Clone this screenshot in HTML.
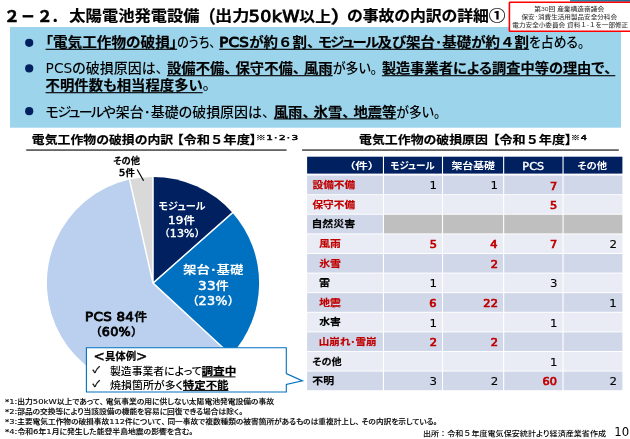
<!DOCTYPE html>
<html lang="ja">
<head>
<meta charset="utf-8">
<title>太陽電池発電設備（出力50kW以上）の事故の内訳の詳細①</title>
<style>
*{margin:0;padding:0;box-sizing:border-box}
html,body{width:630px;height:439px;overflow:hidden;background:#fff}
body{position:relative;font-family:"Liberation Sans","Noto Sans CJK JP",sans-serif;font-feature-settings:"palt"}
.g{display:block;position:static}
.l{font-family:"DejaVu Sans Condensed","DejaVu Sans","Liberation Sans","Noto Sans CJK JP",sans-serif;font-feature-settings:normal;font-size:1.1em;font-weight:normal}
span.f{font-feature-settings:normal}
.l.w{font-family:"DejaVu Sans","Liberation Sans","Noto Sans CJK JP",sans-serif;-webkit-text-stroke:0.12px currentColor;font-size:1.08em}
span.ab{font-family:"DejaVu Sans","Liberation Sans",sans-serif;font-weight:normal;-webkit-text-stroke:0.03em currentColor;font-size:1.3em;line-height:0;position:relative;top:0.06em}
span.po{margin-right:0.02em}
span.pc{margin-left:0.02em}
span.k{letter-spacing:-0.11em}
span.p{font-feature-settings:normal;letter-spacing:-0.22em}
.b{-webkit-text-stroke:0.18px currentColor}
.b .l{font-family:"DejaVu Sans","Liberation Sans","Noto Sans CJK JP",sans-serif;font-weight:normal;-webkit-text-stroke:0.068em currentColor;font-size:1.04em;letter-spacing:0.02em}
.wt{-webkit-text-stroke:0}
.wt .l{-webkit-text-stroke:0.04em currentColor}
.t{position:absolute;white-space:nowrap;line-height:1;font-weight:500;transform-origin:0 0;left:0;top:0}
.b{font-weight:bold}
.s{position:absolute}
</style>
</head>
<body>
<svg class="s" style="left:0;top:0" width="630" height="439" viewBox="0 0 630 439">
<defs><linearGradient id="bar" x1="0" x2="1" y1="0" y2="0"><stop offset="0" stop-color="#2a8ab3"/><stop offset="1" stop-color="#186a96"/></linearGradient></defs>
<rect x="10" y="27" width="611" height="100.7" fill="#9cd5eb"/>
<rect x="570" y="0" width="60" height="1.7" fill="url(#bar)"/>
<rect x="509.4" y="2.3" width="130" height="29" rx="0.6" fill="#fff" stroke="#f00" stroke-width="1.6"/>
<circle cx="29.2" cy="42.8" r="4.1" fill="#002060"/>
<circle cx="29.2" cy="68.4" r="4.1" fill="#002060"/>
<circle cx="29.2" cy="111.2" r="4.1" fill="#002060"/>
<rect x="45.6" y="48.75" width="131.5" height="1.1" fill="#000"/>
<rect x="219.2" y="48.75" width="309.7" height="1.1" fill="#000"/>
<rect x="167" y="75.15" width="165.7" height="1.1" fill="#000"/>
<rect x="381.9" y="75.15" width="233.4" height="1.1" fill="#000"/>
<rect x="45.6" y="92.15" width="157.1" height="1.1" fill="#000"/>
<rect x="273.8" y="118.35" width="122.6" height="1.1" fill="#000"/>
<rect x="26.2" y="149.5" width="260.4" height="1.1" fill="#000"/>
<rect x="302.1" y="149.5" width="316.7" height="1.1" fill="#000"/>
<path d="M153 283.1L153 177A106.1 106.1 0 0 1 232.48 212.81Z" fill="#002060"/><path d="M153 283.1L232.48 212.81A106.1 106.1 0 0 1 230.89 355.14Z" fill="#0070c0"/><path d="M153 283.1L230.89 355.14A106.1 106.1 0 1 1 129.56 179.62Z" fill="#bad0ee"/><path d="M153 283.1L129.56 179.62A106.1 106.1 0 0 1 153 177Z" fill="#d9d9d9"/><path d="M153 283.1L153 176M153 283.1L233.23 212.15M153 283.1L231.63 355.82M153 283.1L129.33 178.65" stroke="#fff" stroke-width="1.5" fill="none" stroke-linecap="round"/><path d="M137.2 169.5L143.6 180.8" stroke="#000" stroke-width="1.2" fill="none"/>
<rect x="307.1" y="156.7" width="75.8" height="16.9" fill="#002060"/>
<rect x="384" y="156.7" width="57.95" height="16.9" fill="#002060"/>
<rect x="443.05" y="156.7" width="60.05" height="16.9" fill="#002060"/>
<rect x="504.2" y="156.7" width="58.3" height="16.9" fill="#002060"/>
<rect x="563.6" y="156.7" width="58.8" height="16.9" fill="#002060"/>
<rect x="307.1" y="175.55" width="75.8" height="18.65" fill="#d0d7e9"/>
<rect x="384" y="175.55" width="57.95" height="18.65" fill="#d0d7e9"/>
<rect x="443.05" y="175.55" width="60.05" height="18.65" fill="#d0d7e9"/>
<rect x="504.2" y="175.55" width="58.3" height="18.65" fill="#d0d7e9"/>
<rect x="563.6" y="175.55" width="58.8" height="18.65" fill="#d0d7e9"/>
<rect x="307.1" y="195.15" width="75.8" height="18.65" fill="#e9ecf4"/>
<rect x="384" y="195.15" width="57.95" height="18.65" fill="#e9ecf4"/>
<rect x="443.05" y="195.15" width="60.05" height="18.65" fill="#e9ecf4"/>
<rect x="504.2" y="195.15" width="58.3" height="18.65" fill="#e9ecf4"/>
<rect x="563.6" y="195.15" width="58.8" height="18.65" fill="#e9ecf4"/>
<rect x="307.1" y="214.75" width="75.8" height="18.65" fill="#d0d7e9"/>
<rect x="384" y="214.75" width="57.95" height="18.65" fill="#bfbfbf"/>
<rect x="443.05" y="214.75" width="60.05" height="18.65" fill="#bfbfbf"/>
<rect x="504.2" y="214.75" width="58.3" height="18.65" fill="#bfbfbf"/>
<rect x="563.6" y="214.75" width="58.8" height="18.65" fill="#bfbfbf"/>
<rect x="307.1" y="234.35" width="75.8" height="18.65" fill="#e9ecf4"/>
<rect x="384" y="234.35" width="57.95" height="18.65" fill="#e9ecf4"/>
<rect x="443.05" y="234.35" width="60.05" height="18.65" fill="#e9ecf4"/>
<rect x="504.2" y="234.35" width="58.3" height="18.65" fill="#e9ecf4"/>
<rect x="563.6" y="234.35" width="58.8" height="18.65" fill="#e9ecf4"/>
<rect x="307.1" y="253.95" width="75.8" height="18.65" fill="#d0d7e9"/>
<rect x="384" y="253.95" width="57.95" height="18.65" fill="#d0d7e9"/>
<rect x="443.05" y="253.95" width="60.05" height="18.65" fill="#d0d7e9"/>
<rect x="504.2" y="253.95" width="58.3" height="18.65" fill="#d0d7e9"/>
<rect x="563.6" y="253.95" width="58.8" height="18.65" fill="#d0d7e9"/>
<rect x="307.1" y="273.55" width="75.8" height="18.65" fill="#e9ecf4"/>
<rect x="384" y="273.55" width="57.95" height="18.65" fill="#e9ecf4"/>
<rect x="443.05" y="273.55" width="60.05" height="18.65" fill="#e9ecf4"/>
<rect x="504.2" y="273.55" width="58.3" height="18.65" fill="#e9ecf4"/>
<rect x="563.6" y="273.55" width="58.8" height="18.65" fill="#e9ecf4"/>
<rect x="307.1" y="293.15" width="75.8" height="18.65" fill="#d0d7e9"/>
<rect x="384" y="293.15" width="57.95" height="18.65" fill="#d0d7e9"/>
<rect x="443.05" y="293.15" width="60.05" height="18.65" fill="#d0d7e9"/>
<rect x="504.2" y="293.15" width="58.3" height="18.65" fill="#d0d7e9"/>
<rect x="563.6" y="293.15" width="58.8" height="18.65" fill="#d0d7e9"/>
<rect x="307.1" y="312.75" width="75.8" height="18.65" fill="#e9ecf4"/>
<rect x="384" y="312.75" width="57.95" height="18.65" fill="#e9ecf4"/>
<rect x="443.05" y="312.75" width="60.05" height="18.65" fill="#e9ecf4"/>
<rect x="504.2" y="312.75" width="58.3" height="18.65" fill="#e9ecf4"/>
<rect x="563.6" y="312.75" width="58.8" height="18.65" fill="#e9ecf4"/>
<rect x="307.1" y="332.35" width="75.8" height="18.65" fill="#d0d7e9"/>
<rect x="384" y="332.35" width="57.95" height="18.65" fill="#d0d7e9"/>
<rect x="443.05" y="332.35" width="60.05" height="18.65" fill="#d0d7e9"/>
<rect x="504.2" y="332.35" width="58.3" height="18.65" fill="#d0d7e9"/>
<rect x="563.6" y="332.35" width="58.8" height="18.65" fill="#d0d7e9"/>
<rect x="307.1" y="351.95" width="75.8" height="18.65" fill="#e9ecf4"/>
<rect x="384" y="351.95" width="57.95" height="18.65" fill="#e9ecf4"/>
<rect x="443.05" y="351.95" width="60.05" height="18.65" fill="#e9ecf4"/>
<rect x="504.2" y="351.95" width="58.3" height="18.65" fill="#e9ecf4"/>
<rect x="563.6" y="351.95" width="58.8" height="18.65" fill="#e9ecf4"/>
<rect x="307.1" y="371.55" width="75.8" height="18.65" fill="#d0d7e9"/>
<rect x="384" y="371.55" width="57.95" height="18.65" fill="#d0d7e9"/>
<rect x="443.05" y="371.55" width="60.05" height="18.65" fill="#d0d7e9"/>
<rect x="504.2" y="371.55" width="58.3" height="18.65" fill="#d0d7e9"/>
<rect x="563.6" y="371.55" width="58.8" height="18.65" fill="#d0d7e9"/>
<path d="M86.4 347.8H286.3V373.6L302.5 380.9L286.3 384.5V392H86.4Z" fill="#fff" stroke="#0070c0" stroke-width="1.1" stroke-linejoin="miter"/>
<rect x="202" y="376.4" width="33.5" height="1" fill="#000"/>
<rect x="183" y="389.9" width="45.4" height="1" fill="#000"/>
</svg>
<header class="g title">
<div class="t b" style="font-size:16.25px;color:#000;transform:translate(3.68px,8.7px) scale(1.0006,0.95);-webkit-text-stroke:0.5px #000;"><span class="f">２</span></div>
<div class="t b" style="font-size:16.25px;color:#000;transform:translate(20.89px,7.96px) scale(0.8553,1);-webkit-text-stroke:0.9px #000;"><span class="f">－</span></div>
<div class="t b" style="font-size:16.25px;color:#000;transform:translate(36.68px,8.66px) scale(0.9788,0.95);-webkit-text-stroke:0.5px #000;"><span class="f">２</span></div>
<div class="t b" style="font-size:16.25px;color:#000;transform:translate(51.08px,8.03px) scale(0.9424,1);"><span class="f">．</span></div>
<div class="t b" style="font-size:16.25px;color:#000;transform:translate(69.36px,8.25px) scale(1.0005,0.92);">太陽電池発電設備</div>
<div class="t b" style="font-size:16.25px;color:#000;transform:translate(198.64px,7.68px) scale(1.05,1.08);-webkit-text-stroke:0.2px #000;"><span class="f">（</span></div>
<div class="t b" style="font-size:16.25px;color:#000;transform:translate(215.01px,8.6px) scale(1.0589,0.92);">出力</div>
<div class="t b" style="font-size:16.25px;color:#000;transform:translate(248.73px,9.3px) scale(1.0369,0.92);"><span class="l" style="-webkit-text-stroke:0.055em #000">50kW</span></div>
<div class="t b" style="font-size:16.25px;color:#000;transform:translate(299.35px,9.17px) scale(0.9733,0.92);">以上</div>
<div class="t b" style="font-size:16.25px;color:#000;transform:translate(330.26px,7.98px) scale(1.3583,1.08);-webkit-text-stroke:0.2px #000;"><span class="f">）</span></div>
<div class="t b" style="font-size:16.25px;color:#000;transform:translate(347.02px,8.3px) scale(0.975,0.92);">の事故の内訳の詳細</div>
<div class="t b" style="font-size:16.25px;color:#000;transform:translate(488.82px,8.6px) scale(1.0287,0.92);">①</div>
</header>
<aside class="g reference">
<div class="t" style="font-size:6.2px;color:#3c3c3c;transform:translate(534.28px,6.18px) scale(1.0895,0.92);">第30回 産業構造審議会</div>
<div class="t" style="font-size:6.2px;color:#3c3c3c;transform:translate(521.51px,14.15px) scale(1.0641,0.92);">保安･消費生活用製品安全分科会</div>
<div class="t" style="font-size:6.2px;color:#3c3c3c;transform:translate(512.31px,22.59px) scale(1.0683,0.92);">電力安全小委員会 資料<span class="f">１</span>-<span class="f">１</span>を一部修正</div>
</aside>
<section class="g summary">
<div class="t b" style="font-size:14.3px;color:#000;transform:translate(45.6px,35.93px) scale(1.0236,0.92);">「電気工作物の破損」</div>
<div class="t" style="font-size:14.3px;color:#000;transform:translate(177.1px,35.82px) scale(0.8394,0.92);">のうち<span class="p">、</span></div>
<div class="t b" style="font-size:14.3px;color:#000;transform:translate(219.2px,36px) scale(1.0111,0.92);"><span class="l">PCS</span>が約<span class="f">６</span>割<span class="p">、</span><span class="k">モジュール</span>及び架台･基礎が約<span class="f">４</span>割</div>
<div class="t" style="font-size:14.3px;color:#000;transform:translate(528.9px,36.05px) scale(0.8995,0.92);">を占める<span class="p">。</span></div>
<div class="t" style="font-size:14.3px;color:#000;transform:translate(45.6px,61.1px) scale(0.9764,0.92);"><span class="l">PCS</span>の破損原因は<span class="p">、</span></div>
<div class="t b" style="font-size:14.3px;color:#000;transform:translate(167px,61.97px) scale(1.0025,0.92);">設備不備<span class="p">、</span>保守不備<span class="p">、</span>風雨</div>
<div class="t" style="font-size:14.3px;color:#000;transform:translate(332.7px,62.23px) scale(0.9121,0.92);">が多い<span class="p">。</span></div>
<div class="t b" style="font-size:14.3px;color:#000;transform:translate(381.9px,62.17px) scale(0.9938,0.92);">製造事業者による調査中等の理由で<span class="p">、</span></div>
<div class="t b" style="font-size:14.3px;color:#000;transform:translate(45.6px,79.16px) scale(1.0037,0.92);">不明件数も相当程度多い</div>
<div class="t" style="font-size:14.3px;color:#000;transform:translate(202.7px,78.12px) scale(1,0.92);"><span class="p">。</span></div>
<div class="t" style="font-size:14.3px;color:#000;transform:translate(45.6px,105.8px) scale(0.9783,0.92);"><span class="k">モジュール</span>や架台･基礎の破損原因は<span class="p">、</span></div>
<div class="t b" style="font-size:14.3px;color:#000;transform:translate(273.8px,105.81px) scale(1.0017,0.92);">風雨<span class="p">、</span>氷雪<span class="p">、</span>地震等</div>
<div class="t" style="font-size:14.3px;color:#000;transform:translate(396.4px,105.93px) scale(0.8989,0.92);">が多い<span class="p">。</span></div>
</section>
<section class="g pie-chart">
<div class="t b" style="font-size:12.8px;color:#000;transform:translate(31.77px,134.99px) scale(1.0075,0.92);">電気工作物の破損の内訳</div>
<div class="t b" style="font-size:12.8px;color:#000;transform:translate(176.73px,134.82px) scale(1.0403,0.92);">【令和<span class="f">５</span>年度】</div>
<div class="t b" style="font-size:7.9px;color:#000;transform:translate(255.65px,133.99px) scale(1.2804,0.92);letter-spacing:0.06em;">※<span class="l">1</span>･<span class="l">2</span>･<span class="l">3</span></div>
<div class="t b" style="font-size:9.6px;color:#000;transform:translate(113.37px,156.67px) scale(0.965,0.92);">その他</div>
<div class="t b" style="font-size:9.6px;color:#000;transform:translate(119.11px,168.17px) scale(0.9772,0.92);"><span class="l">5</span>件</div>
<div class="t b wt" style="font-size:10.8px;color:#fff;transform:translate(158.4px,201.51px) scale(0.9405,0.92);">モジュール</div>
<div class="t b wt" style="font-size:10.8px;color:#fff;transform:translate(167.99px,215.78px) scale(1.0609,0.92);"><span class="l">19</span>件</div>
<div class="t b wt" style="font-size:10.8px;color:#fff;transform:translate(164.15px,228.83px) scale(0.9823,0.92);"><span class="po">（</span><span class="l">13%</span><span class="pc">）</span></div>
<div class="t b wt" style="font-size:12.4px;color:#fff;transform:translate(183.02px,264.71px) scale(1.0844,0.92);">架台･基礎</div>
<div class="t b wt" style="font-size:12.4px;color:#fff;transform:translate(198.03px,280.8px) scale(1.0507,0.92);"><span class="l">33</span>件</div>
<div class="t b wt" style="font-size:12.4px;color:#fff;transform:translate(192.14px,295.8px) scale(0.9937,0.92);"><span class="po">（</span><span class="l">23%</span><span class="pc">）</span></div>
<div class="t b" style="font-size:12.6px;color:#000;transform:translate(85.07px,310.85px) scale(1.0291,0.92);"><span class="l">PCS 84</span>件</div>
<div class="t b" style="font-size:12.6px;color:#000;transform:translate(95.41px,326.11px) scale(0.976,0.92);"><span class="po">（</span><span class="l">60%</span><span class="pc">）</span></div>
</section>
<section class="g cause-table">
<div class="t b" style="font-size:12.8px;color:#000;transform:translate(358.97px,135.1px) scale(1.0093,0.92);">電気工作物の破損原因</div>
<div class="t b" style="font-size:12.8px;color:#000;transform:translate(492.93px,135.01px) scale(1.0249,0.92);">【令和<span class="f">５</span>年度】</div>
<div class="t b" style="font-size:7.9px;color:#000;transform:translate(570.82px,133.22px) scale(1.1845,0.92);letter-spacing:0.06em;">※<span class="l">4</span></div>
<div class="t b wt" style="font-size:10.4px;color:#fff;transform:translate(348.99px,161.89px) scale(1.2162,0.92);">（件）</div>
<div class="t b wt" style="font-size:10.4px;color:#fff;transform:translate(390.4px,161.98px) scale(0.914,0.92);">モジュール</div>
<div class="t b wt" style="font-size:10.4px;color:#fff;transform:translate(451.43px,162.1px) scale(1.0456,0.92);">架台基礎</div>
<div class="t b wt" style="font-size:10.4px;color:#fff;transform:translate(522.24px,162.6px) scale(1.0266,0.92);"><span class="l">PCS</span></div>
<div class="t b wt" style="font-size:10.4px;color:#fff;transform:translate(577.47px,162.1px) scale(0.9885,0.92);">その他</div>
<div class="t b" style="font-size:10.5px;color:#c00000;transform:translate(312.5px,180.06px) scale(1.0133,0.92);">設備不備</div>
<div class="t b" style="font-size:10.5px;color:#c00000;transform:translate(312.47px,199.78px) scale(1.0134,0.92);">保守不備</div>
<div class="t b" style="font-size:10.5px;color:#000;transform:translate(311.46px,218.66px) scale(1.0389,0.92);">自然災害</div>
<div class="t b" style="font-size:10.5px;color:#c00000;transform:translate(319.19px,238.88px) scale(1.0278,0.92);">風雨</div>
<div class="t b" style="font-size:10.5px;color:#c00000;transform:translate(319.22px,258.63px) scale(1.0369,0.92);">氷雪</div>
<div class="t b" style="font-size:10.5px;color:#000;transform:translate(319.07px,277.99px) scale(1.0533,0.92);">雷</div>
<div class="t b" style="font-size:10.5px;color:#c00000;transform:translate(319.29px,297.72px) scale(1.0279,0.92);">地震</div>
<div class="t b" style="font-size:10.5px;color:#000;transform:translate(319.16px,316.59px) scale(1.0277,0.92);">水害</div>
<div class="t b" style="font-size:10.5px;color:#c00000;transform:translate(318.79px,336.98px) scale(1.0014,0.92);">山崩れ･雪崩</div>
<div class="t b" style="font-size:10.5px;color:#000;transform:translate(312.35px,356.67px) scale(0.9651,0.92);">その他</div>
<div class="t b" style="font-size:10.5px;color:#000;transform:translate(312.27px,375.96px) scale(1.0391,0.92);">不明</div>
<div class="t" style="font-size:10.9px;color:#000;transform:translate(429.4px,180.65px) scale(1,0.92);"><span class="l w">1</span></div>
<div class="t" style="font-size:10.9px;color:#000;transform:translate(490.55px,180.97px) scale(1,0.92);"><span class="l w">1</span></div>
<div class="t b" style="font-size:10.9px;color:#c00000;transform:translate(550.07px,181.32px) scale(1,0.92);"><span class="l w">7</span></div>
<div class="t b" style="font-size:10.9px;color:#c00000;transform:translate(550.1px,200.92px) scale(1,0.92);"><span class="l w">5</span></div>
<div class="t b" style="font-size:10.9px;color:#c00000;transform:translate(429.7px,240.12px) scale(1,0.92);"><span class="l w">5</span></div>
<div class="t b" style="font-size:10.9px;color:#c00000;transform:translate(490.3px,240.12px) scale(1,0.92);"><span class="l w">4</span></div>
<div class="t b" style="font-size:10.9px;color:#c00000;transform:translate(550.07px,240.12px) scale(1,0.92);"><span class="l w">7</span></div>
<div class="t" style="font-size:10.9px;color:#000;transform:translate(609.43px,240.12px) scale(1,0.92);"><span class="l w">2</span></div>
<div class="t b" style="font-size:10.9px;color:#c00000;transform:translate(490.81px,259.73px) scale(1,0.92);"><span class="l w">2</span></div>
<div class="t" style="font-size:10.9px;color:#000;transform:translate(429.4px,278.65px) scale(1,0.92);"><span class="l w">1</span></div>
<div class="t" style="font-size:10.9px;color:#000;transform:translate(549.92px,278.65px) scale(1,0.92);"><span class="l w">3</span></div>
<div class="t b" style="font-size:10.9px;color:#c00000;transform:translate(429.15px,298.93px) scale(1,0.92);"><span class="l w">6</span></div>
<div class="t b" style="font-size:10.9px;color:#c00000;transform:translate(483.3px,298.93px) scale(1,0.92);"><span class="l w">22</span></div>
<div class="t" style="font-size:10.9px;color:#000;transform:translate(609.35px,298.93px) scale(1,0.92);"><span class="l w">1</span></div>
<div class="t" style="font-size:10.9px;color:#000;transform:translate(429.45px,318.52px) scale(1,0.92);"><span class="l w">1</span></div>
<div class="t" style="font-size:10.9px;color:#000;transform:translate(550px,318.52px) scale(1,0.92);"><span class="l w">1</span></div>
<div class="t b" style="font-size:10.9px;color:#c00000;transform:translate(429.66px,338.12px) scale(1,0.92);"><span class="l w">2</span></div>
<div class="t b" style="font-size:10.9px;color:#c00000;transform:translate(490.81px,338.12px) scale(1,0.92);"><span class="l w">2</span></div>
<div class="t" style="font-size:10.9px;color:#000;transform:translate(550px,357.73px) scale(1,0.92);"><span class="l w">1</span></div>
<div class="t" style="font-size:10.9px;color:#000;transform:translate(429.56px,376.97px) scale(1,0.92);"><span class="l w">3</span></div>
<div class="t" style="font-size:10.9px;color:#000;transform:translate(490.87px,376.97px) scale(1,0.92);"><span class="l w">2</span></div>
<div class="t b" style="font-size:10.9px;color:#c00000;transform:translate(542.39px,376.96px) scale(1,0.92);"><span class="l w">60</span></div>
<div class="t" style="font-size:10.9px;color:#000;transform:translate(609.43px,376.65px) scale(1,0.92);"><span class="l w">2</span></div>
</section>
<section class="g examples">
<div class="t b" style="font-size:11.4px;color:#000;transform:translate(93.55px,352.15px) scale(0.913,0.92);"><span class="ab">&lt;</span>具体例<span class="ab">&gt;</span></div>
<div class="t" style="font-size:11.4px;color:#000;transform:translate(92.6px,366.32px) scale(0.9318,0.78);-webkit-text-stroke:0.3px #000;">✓</div>
<div class="t" style="font-size:11.4px;color:#000;transform:translate(109.97px,367px) scale(0.9507,0.92);">製造事業者によって</div>
<div class="t b" style="font-size:11.4px;color:#000;transform:translate(201.42px,367px) scale(1.0218,0.92);">調査中</div>
<div class="t" style="font-size:11.4px;color:#000;transform:translate(92.6px,380.02px) scale(0.9318,0.78);-webkit-text-stroke:0.3px #000;">✓</div>
<div class="t" style="font-size:11.4px;color:#000;transform:translate(110.04px,380.87px) scale(0.9625,0.92);">焼損箇所が多く</div>
<div class="t b" style="font-size:11.4px;color:#000;transform:translate(182.71px,380.89px) scale(1.007,0.92);">特定不能</div>
</section>
<footer class="g notes">
<div class="t" style="font-size:7.7px;color:#000;transform:translate(4.98px,397.49px) scale(1.0096,0.92);-webkit-text-stroke:0.12px #000;"><span class="l w">*1:</span>出力<span class="l w">50kW</span>以上であって<span class="p">、</span>電気事業の用に供しない太陽電池発電設備の事故</div>
<div class="t" style="font-size:7.7px;color:#000;transform:translate(4.97px,407.57px) scale(1.0019,0.92);-webkit-text-stroke:0.12px #000;"><span class="l w">*2:</span>部品の交換等により当該設備の機能を容易に回復できる場合は除く<span class="p">。</span></div>
<div class="t" style="font-size:7.7px;color:#000;transform:translate(4.99px,417.56px) scale(0.9995,0.92);-webkit-text-stroke:0.12px #000;"><span class="l w">*3:</span>主要電気工作物の破損事故<span class="l w">112</span>件について<span class="p">、</span>同一事故で複数種類の被害箇所があるものは重複計上し<span class="p">、</span>その内訳を示している<span class="p">。</span></div>
<div class="t" style="font-size:7.7px;color:#000;transform:translate(4.98px,427.2px) scale(1.0169,0.92);-webkit-text-stroke:0.12px #000;"><span class="l w">*4:</span>令和<span class="l w">6</span>年<span class="l w">1</span>月に発生した能登半島地震の影響を含む<span class="p">。</span></div>
<div class="t" style="font-size:8px;color:#000;transform:translate(422.97px,430.17px) scale(1.009,0.92);">出所<span class="f">：</span>令和<span class="f">５</span>年度電気保安統計より経済産業省作成</div>
<div class="t" style="font-size:12px;color:#000;transform:translate(614.22px,425.9px) scale(0.9838,0.92);"><span class="l">10</span></div>
</footer>
</body>
</html>
